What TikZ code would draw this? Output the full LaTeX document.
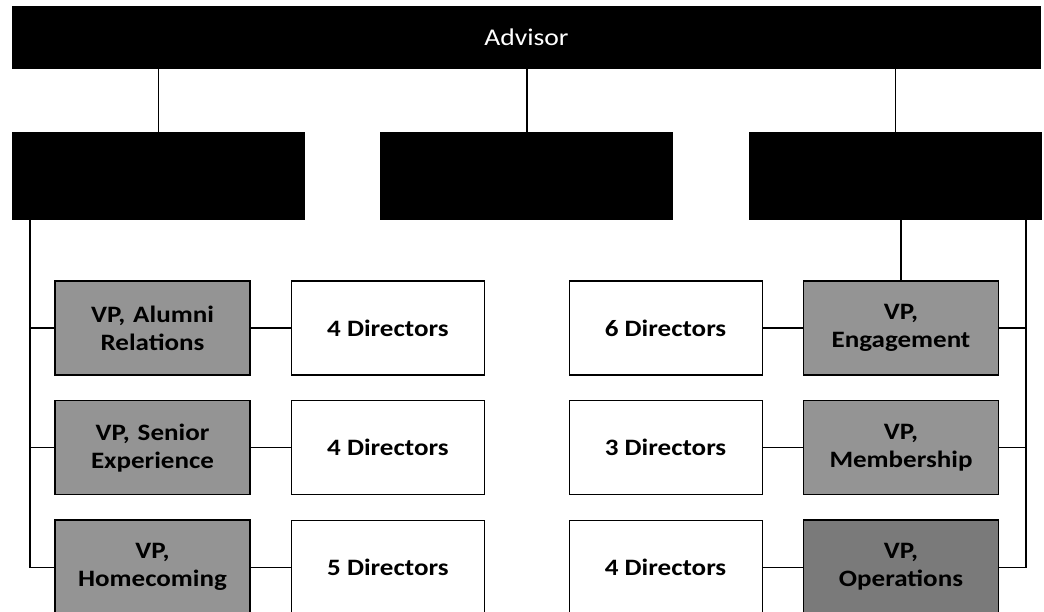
\documentclass[tikz,border=0pt]{standalone}
\usepackage{fontspec}
\setmainfont{Carlito}[FakeStretch=1.15]
\usetikzlibrary{positioning}

\begin{document}
\begin{tikzpicture}[x=1pt, y=-1pt,
	topbox/.style={rectangle, fill=black, text=white, minimum width=1029pt, minimum height=63pt, font=\fontsize{24}{28}\selectfont},
	headbox/.style={rectangle, fill=black, minimum width=293pt, minimum height=88pt},
	vpbox/.style={rectangle, draw, line width=1.6pt, fill=black!42, text width=190pt, minimum width=195pt, minimum height=94pt, inner sep=0pt, align=center, font=\bfseries\fontsize{23.5}{28}\selectfont},
	dirbox/.style={rectangle, draw, line width=1.2pt, fill=white, minimum width=193pt, minimum height=94pt, font=\bfseries\fontsize{23.5}{28}\selectfont},
	link/.style={line width=1.2pt},
	node distance=24pt and 40pt
]
	\useasboundingbox (0,0) rectangle (1044,611);

	% top and second level
	\node[topbox] (advisor) at (526.5,37.5) {Advisor};
	\node[headbox] (head1) at (158.5,176) {};
	\node[headbox, right=75pt of head1] (head2) {};
	\node[headbox, right=75pt of head2] (head3) {};

	% left column
	\node[vpbox] (vpalumni) at (152.5,328) {VP, Alumni\\Relations};
	\node[vpbox, below=of vpalumni] (vpsenior) {VP, Senior\\Experience};
	\node[vpbox, below=of vpsenior] (vphome) {VP,\\Homecoming};
	\node[dirbox, right=of vpalumni] (diralumni) {4 Directors};
	\node[dirbox, right=of vpsenior] (dirsenior) {4 Directors};
	\node[dirbox, right=of vphome] (dirhome) {5 Directors};

	% right column
	\node[vpbox] (vpengage) at (901,328) {VP,\\Engagement};
	\node[vpbox, below=of vpengage] (vpmember) {VP,\\Membership};
	\node[vpbox, fill=black!52, below=of vpmember] (vpops) {VP,\\Operations};
	\node[dirbox, left=of vpengage] (direngage) {6 Directors};
	\node[dirbox, left=of vpmember] (dirmember) {3 Directors};
	\node[dirbox, left=of vpops] (dirops) {4 Directors};

	\coordinate (lbus) at (30,0);
	\coordinate (rbus) at (1026,0);

	\draw[link] (head1.north) -- (head1.north |- advisor.south);
	\draw[link] (head2.north) -- (head2.north |- advisor.south);
	\draw[link] (head3.north) -- (head3.north |- advisor.south);

	\draw[link] (head1.south -| lbus) |- (vphome.west);
	\draw[link] (vpalumni.west) -- (vpalumni.west -| lbus);
	\draw[link] (vpsenior.west) -- (vpsenior.west -| lbus);
	\draw[link] (vpalumni) -- (diralumni);
	\draw[link] (vpsenior) -- (dirsenior);
	\draw[link] (vphome) -- (dirhome);

	\draw[link] (vpengage.north) -- (vpengage.north |- head3.south);
	\draw[link] (head3.south -| rbus) |- (vpops.east);
	\draw[link] (vpengage.east) -- (vpengage.east -| rbus);
	\draw[link] (vpmember.east) -- (vpmember.east -| rbus);
	\draw[link] (direngage) -- (vpengage);
	\draw[link] (dirmember) -- (vpmember);
	\draw[link] (dirops) -- (vpops);
\end{tikzpicture}
\end{document}
